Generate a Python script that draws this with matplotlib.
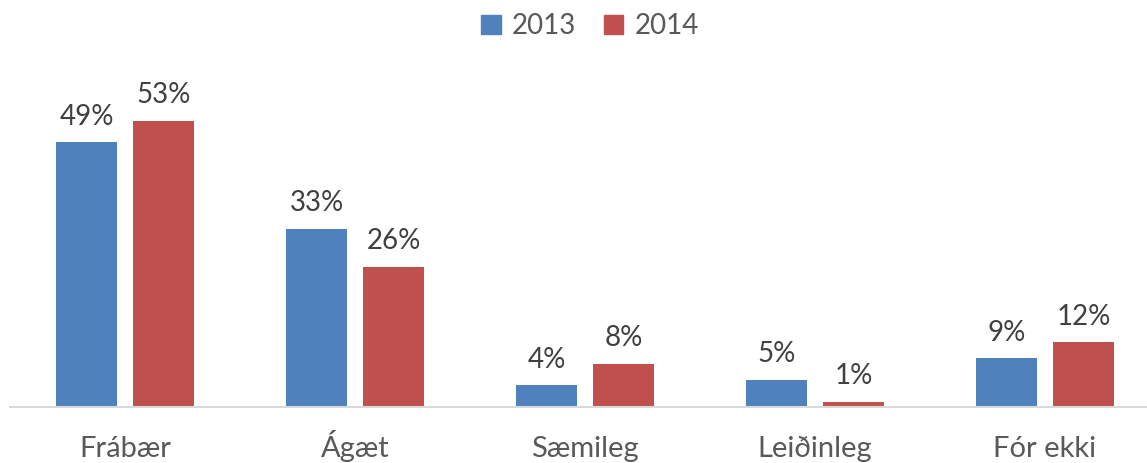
import numpy as np
import matplotlib.pyplot as plt
from matplotlib.patches import Patch

plt.rcParams['font.family'] = ['Lato', 'DejaVu Sans']

flokkar = ['Frábær', 'Ágæt', 'Sæmileg', 'Leiðinleg', 'Fór ekki']
ar_2013 = [49, 33, 4, 5, 9]
ar_2014 = [53, 26, 8, 1, 12]

blar = '#4F81BD'
raudur = '#C0504D'

fig = plt.figure(figsize=(11.47, 4.63), dpi=100)
# axes: left 10px, bottom at y=407px, top at y=60px
ax = fig.add_axes([10 / 1147, (463 - 407) / 463, 1137 / 1147, (407 - 60) / 463])

x = np.arange(len(flokkar))
breidd = 0.265
bil = 0.335
b1 = ax.bar(x - bil / 2, ar_2013, breidd, color=blar)
b2 = ax.bar(x + bil / 2, ar_2014, breidd, color=raudur)

for bars in (b1, b2):
    ax.bar_label(bars, labels=[f'{v}%' for v in bars.datavalues],
                 padding=9, fontsize=20, color='#404040')

ax.set_xlim(-0.5, -0.5 + 1137 / 230)
ax.set_ylim(0, 347 / 5.4)
ax.set_xticks(x)
ax.set_xticklabels(flokkar, fontsize=21, color='#595959', va='baseline')
ax.tick_params(axis='x', length=0, pad=36)
ax.set_yticks([])
for s in ['top', 'right', 'left']:
    ax.spines[s].set_visible(False)
ax.spines['bottom'].set_color('#D9D9D9')
ax.spines['bottom'].set_linewidth(1.5)

handles = [Patch(color=blar, label='2013'), Patch(color=raudur, label='2014')]
fig.legend(handles=handles, loc='center', bbox_to_anchor=(590 / 1147, 1 - 26 / 463),
           ncol=2, frameon=False, fontsize=20, labelcolor='#595959',
           handlelength=0.7, handleheight=0.7, handletextpad=0.4, columnspacing=1.0)

fig.savefig('out.png', dpi=100)
